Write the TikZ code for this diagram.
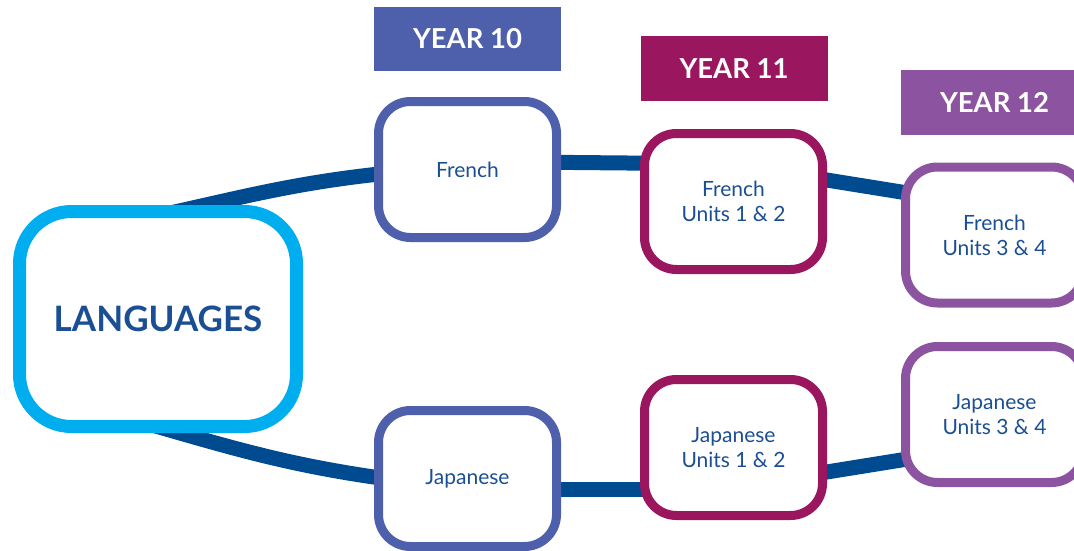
\documentclass[tikz,border=0pt]{standalone}
\usepackage{fontspec}
\setmainfont{Lato}
\usepackage{xcolor}
\usetikzlibrary{backgrounds}
\definecolor{skyblue}{HTML}{00AEEF}
\definecolor{navy}{HTML}{004B8F}
\definecolor{textblue}{HTML}{1B4F93}
\definecolor{yearten}{HTML}{4E5FAB}
\definecolor{yeareleven}{HTML}{9A165E}
\definecolor{yeartwelve}{HTML}{8C54A0}

\begin{document}
\begin{tikzpicture}[x=1pt,y=1pt,
    link/.style={navy,line width=15pt},
    course/.style={draw=#1,fill=white,rounded corners=32pt,line width=9pt,
        minimum width=178pt,minimum height=136pt,align=center,text=textblue,
        font=\fontsize{21}{25}\selectfont},
    yearbox/.style={fill=#1,text=white,inner sep=0,minimum width=187pt,
        minimum height=64pt,font=\bfseries\fontsize{27.5}{30}\selectfont}]
        
        \useasboundingbox (0,0) rectangle (1074,-551);
        
        % centre
        \node[draw=skyblue,fill=white,line width=13pt,rounded corners=52pt,
            minimum width=277pt,minimum height=215pt,text=textblue,
            font=\bfseries\fontsize{35}{36}\selectfont] (lang) at (158,-319) {LANGUAGES};
        
        % year labels
        \node[yearbox=yearten] (y10) at (467.5,-39) {YEAR 10};
        \node[yearbox=yeareleven] (y11) at (734,-68.5) {YEAR 11};
        \node[yearbox=yeartwelve] (y12) at (994.5,-102.5) {YEAR 12};
        
        % courses
        \node[course=yearten] (fr10) at (467.5,-169.5) {French};
        \node[course=yearten] (ja10) at (467.5,-478.5) {Japanese};
        \node[course=yeareleven] (fr11) at (733.5,-201.5) {French\\Units 1 \& 2};
        \node[course=yeareleven] (ja11) at (733.5,-447.5) {Japanese\\Units 1 \& 2};
        \node[course=yeartwelve] (fr12) at (994.5,-235) {French\\Units 3 \& 4};
        \node[course=yeartwelve] (ja12) at (994.5,-414.5) {Japanese\\Units 3 \& 4};
        
        \begin{scope}[on background layer]
            \draw[link] ([xshift=-20pt,yshift=-15pt]lang.north) to[out=12,in=186] ([xshift=10pt,yshift=-4pt]fr10.west);
            \draw[link] ([yshift=8pt]fr10.center) -- ([yshift=37.5pt]fr11.center);
            \draw[link] ([yshift=36.5pt]fr11.center) -- ([yshift=28pt]fr12.center);
            \draw[link] ([xshift=-30pt,yshift=15pt]lang.south) to[out=-16,in=172] ([xshift=10pt]ja10.west);
            \draw[link] ([yshift=-10.5pt]ja10.center) -- ([yshift=-41.5pt]ja11.center);
            \draw[link] ([yshift=-39.5pt]ja11.center) -- ([yshift=-30.5pt]ja12.center);
        \end{scope}
        
    \end{tikzpicture}
\end{document}
